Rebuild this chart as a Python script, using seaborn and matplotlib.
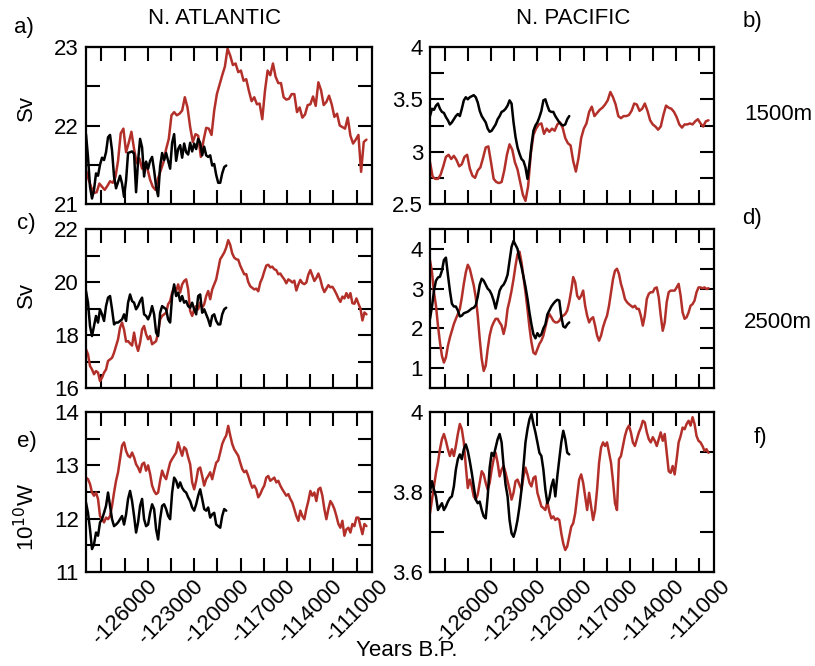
import numpy as np
import pandas as pd
import matplotlib
matplotlib.use("Agg")
import matplotlib.pyplot as plt
import seaborn as sns
from matplotlib.ticker import MultipleLocator, FuncFormatter

# ---------------- data ----------------
T_START = -128500
RED_END = -110360
BLACK_END = -119430

A_RED = [21.43,21.31,21.21,21.14,21.15,21.26,21.22,21.18,21.23,21.29,
         21.27,21.34,21.55,21.90,21.96,21.66,21.78,21.92,21.70,21.52,
         21.58,21.45,21.52,21.45,21.31,21.22,21.18,21.33,21.43,21.53,
         21.70,21.83,22.13,22.17,22.13,22.15,22.19,22.36,22.23,21.98,
         21.79,21.89,21.87,21.60,21.81,21.97,21.96,21.88,22.19,22.40,
         22.52,22.64,22.75,22.98,22.89,22.77,22.79,22.68,22.70,22.57,
         22.59,22.44,22.31,22.36,22.27,22.28,22.08,22.44,22.70,22.64,
         22.79,22.62,22.54,22.54,22.36,22.33,22.34,22.40,22.40,22.17,
         22.23,22.10,22.14,22.26,22.27,22.37,22.25,22.55,22.45,22.26,
         22.30,22.38,22.27,22.11,22.15,22.00,21.98,21.96,22.10,21.87,
         21.77,21.82,21.88,21.41,21.79,21.82]
A_BLACK = [21.89,21.60,21.22,21.07,21.18,21.39,21.36,21.50,21.59,21.56,
           21.66,21.85,21.88,21.68,21.35,21.20,21.28,21.36,21.26,21.09,
           21.30,21.65,21.66,21.67,21.64,21.15,21.55,21.83,21.72,21.35,
           21.54,21.45,21.55,21.60,21.43,21.22,21.10,21.48,21.65,21.56,
           21.65,21.55,21.45,21.78,21.89,21.55,21.70,21.75,21.59,21.77,
           21.66,21.63,21.78,21.67,21.77,21.70,21.83,21.78,21.62,21.73,
           21.62,21.60,21.62,21.49,21.51,21.37,21.27,21.27,21.39,21.47,
           21.49]

B_RED = [2.90,2.76,2.74,2.74,2.78,2.86,2.95,2.97,2.93,2.96,
         2.92,2.86,2.88,2.95,2.97,2.84,2.77,2.75,2.82,2.85,
         2.94,3.04,3.05,2.90,2.74,2.71,2.70,2.71,2.82,2.97,
         3.07,3.02,2.90,2.83,2.71,2.59,2.53,2.67,2.98,3.16,
         3.22,3.26,3.27,3.17,3.22,3.19,3.22,3.20,3.26,3.28,
         3.23,3.13,3.08,3.06,2.91,2.81,2.94,3.13,3.22,3.27,
         3.38,3.43,3.34,3.37,3.40,3.42,3.45,3.49,3.57,3.52,
         3.45,3.34,3.32,3.34,3.34,3.35,3.39,3.46,3.45,3.39,
         3.41,3.46,3.39,3.30,3.26,3.24,3.21,3.24,3.35,3.44,
         3.42,3.41,3.38,3.33,3.26,3.23,3.26,3.26,3.27,3.26,
         3.29,3.31,3.27,3.24,3.29,3.30]
B_BLACK = [3.34,3.41,3.40,3.44,3.46,3.41,3.38,3.37,3.33,3.30,
           3.26,3.28,3.31,3.34,3.36,3.34,3.41,3.49,3.52,3.50,
           3.52,3.53,3.54,3.52,3.47,3.39,3.34,3.31,3.28,3.22,
           3.19,3.20,3.23,3.26,3.31,3.34,3.38,3.39,3.41,3.44,
           3.49,3.46,3.28,3.14,3.04,2.98,2.93,2.91,2.85,2.74,
           2.88,3.06,3.20,3.25,3.28,3.33,3.39,3.49,3.50,3.44,
           3.39,3.38,3.38,3.34,3.31,3.28,3.26,3.25,3.26,3.31,
           3.34]

C_RED = [17.46,17.27,16.83,16.70,16.52,16.64,16.58,16.26,16.39,16.58,
         16.70,17.02,17.08,17.14,17.33,17.58,17.84,18.28,18.47,18.20,
         17.75,17.77,17.68,17.60,18.09,17.65,17.40,17.71,18.21,18.34,
         18.03,17.84,17.96,17.65,17.71,17.77,18.09,18.59,18.72,18.78,
         18.84,19.16,19.28,19.60,19.79,19.66,19.91,19.60,19.91,20.04,
         20.10,19.72,18.91,18.72,18.97,19.09,18.97,19.22,19.03,19.16,
         19.47,19.66,19.35,19.72,19.91,20.10,20.48,20.86,20.98,21.11,
         21.30,21.58,21.40,21.08,20.92,20.86,20.84,20.62,20.45,20.29,
         20.30,20.00,19.84,19.78,19.72,19.75,19.65,19.98,20.15,20.40,
         20.62,20.65,20.55,20.58,20.48,20.45,20.29,20.32,20.20,20.10,
         19.95,20.10,20.05,19.98,20.05,19.68,19.90,20.08,19.96,19.92,
         19.98,20.28,20.45,20.25,20.04,20.15,20.32,20.10,19.80,19.62,
         19.75,19.88,19.80,19.82,19.70,19.55,19.38,19.25,19.45,19.38,
         19.58,19.40,19.58,19.20,19.18,19.38,19.18,19.00,18.55,18.85,
         18.78]
C_BLACK = [19.66,19.22,18.34,17.96,18.34,18.72,18.47,18.97,18.78,18.53,
           19.09,19.41,19.47,18.97,18.40,18.47,18.47,18.53,18.59,18.78,
           18.53,19.22,19.53,19.28,19.22,18.97,19.09,19.28,19.41,18.78,
           18.72,18.59,18.78,19.09,18.78,18.09,17.96,18.84,19.09,19.03,
           18.97,18.59,18.47,19.47,19.91,19.47,19.60,19.28,19.47,19.22,
           19.28,19.09,19.03,19.22,18.97,18.78,19.47,19.53,18.84,18.97,
           18.78,18.59,18.34,18.72,18.78,18.53,18.40,18.40,18.78,18.97,
           19.03]

D_RED = [3.71,3.41,2.91,2.57,2.07,1.65,1.31,1.14,1.27,1.56,
         1.77,1.94,2.11,2.24,2.36,2.49,2.78,3.12,3.41,3.60,
         3.50,3.29,3.08,2.78,2.32,1.73,1.23,0.93,1.06,1.48,
         1.82,2.03,2.15,2.24,2.24,2.15,2.07,1.86,2.07,2.49,
         2.70,2.95,3.24,3.58,3.87,3.93,3.66,3.29,2.91,2.49,
         2.03,1.65,1.39,1.35,1.48,1.61,1.69,1.82,2.03,2.24,
         2.36,2.28,2.19,2.15,2.15,2.19,2.28,2.32,2.36,2.45,
         2.66,2.95,3.29,3.16,2.82,2.74,2.82,2.95,2.57,2.32,
         2.15,2.24,2.28,2.07,1.82,1.69,1.82,2.03,2.19,2.32,
         2.57,2.91,3.24,3.45,3.50,3.37,3.12,2.95,2.74,2.66,
         2.61,2.57,2.53,2.57,2.49,2.49,2.32,2.07,2.32,2.74,
         2.87,2.91,2.91,3.01,3.03,2.78,2.32,1.94,2.15,2.66,
         2.91,2.95,2.95,2.95,3.03,3.12,2.82,2.40,2.24,2.28,
         2.40,2.57,2.61,2.70,2.91,3.03,3.03,3.01,3.03,2.99,
         3.01]
D_BLACK = [2.24,2.55,2.95,3.20,3.28,3.30,3.45,3.72,3.78,3.35,
           2.95,2.62,2.55,2.55,2.45,2.30,2.32,2.38,2.40,2.42,
           2.46,2.50,2.52,2.58,2.80,3.10,3.25,3.20,3.10,3.00,
           2.95,2.85,2.70,2.50,2.72,2.95,3.05,3.10,3.20,3.35,
           3.70,4.05,4.20,4.10,4.00,3.75,3.55,3.30,3.05,2.75,
           2.40,2.10,1.85,1.75,1.88,1.80,1.85,2.00,2.10,2.35,
           2.45,2.55,2.62,2.68,2.72,2.70,2.30,2.05,2.02,2.10,
           2.15]

E_RED = [12.77,12.74,12.65,12.49,12.43,12.49,12.37,12.05,11.99,11.93,
         12.02,11.99,12.05,12.24,12.49,12.71,12.87,13.12,13.37,13.43,
         13.27,13.18,13.15,13.24,13.15,13.02,12.96,12.87,13.02,13.05,
         12.90,13.00,12.84,12.62,12.52,12.46,12.49,12.71,12.90,12.80,
         12.74,12.90,13.05,13.12,13.18,13.24,13.43,13.30,13.18,13.34,
         13.30,13.15,13.02,12.68,12.55,12.71,12.93,12.96,12.80,12.62,
         12.74,12.80,12.87,12.74,12.90,13.05,13.09,13.24,13.40,13.49,
         13.56,13.74,13.56,13.40,13.30,13.24,13.18,13.05,12.93,12.87,
         12.90,12.80,12.68,12.58,12.62,12.55,12.40,12.46,12.55,12.62,
         12.77,12.80,12.71,12.74,12.77,12.68,12.71,12.62,12.55,12.49,
         12.43,12.46,12.37,12.30,12.18,12.05,11.96,12.15,12.05,11.99,
         12.18,12.33,12.52,12.43,12.49,12.33,12.55,12.58,12.43,12.18,
         11.99,12.18,12.33,12.27,12.18,12.05,11.90,11.83,11.96,11.68,
         11.80,11.83,11.74,11.90,11.86,12.02,12.02,11.86,11.71,11.90,
         11.86]
E_BLACK = [12.30,12.11,11.80,11.43,11.52,11.74,11.68,11.93,11.99,12.11,
           12.24,12.49,12.24,11.99,11.86,11.89,11.93,11.99,12.05,11.89,
           12.08,12.37,12.52,12.33,12.05,11.74,11.93,12.24,12.37,11.99,
           11.86,11.89,12.11,12.27,12.18,11.80,11.61,11.99,12.24,12.27,
           12.18,12.05,11.99,12.49,12.77,12.71,12.58,12.68,12.58,12.52,
           12.49,12.40,12.33,12.21,12.15,12.27,12.43,12.55,12.37,12.18,
           12.15,12.21,12.02,12.08,12.11,11.89,11.86,11.83,12.05,12.18,
           12.15]

F_RED = [3.747,3.781,3.814,3.848,3.873,3.907,3.932,3.945,3.928,3.907,
         3.890,3.907,3.890,3.915,3.945,3.970,3.957,3.924,3.865,3.810,
         3.831,3.814,3.789,3.781,3.794,3.823,3.852,3.844,3.823,3.806,
         3.823,3.856,3.882,3.898,3.873,3.839,3.856,3.865,3.848,3.827,
         3.806,3.781,3.798,3.827,3.831,3.818,3.806,3.839,3.861,3.844,
         3.823,3.814,3.835,3.839,3.798,3.781,3.764,3.760,3.755,3.776,
         3.751,3.734,3.739,3.730,3.734,3.730,3.697,3.671,3.655,3.664,
         3.688,3.713,3.722,3.747,3.789,3.831,3.844,3.823,3.789,3.755,
         3.798,3.764,3.730,3.755,3.806,3.873,3.911,3.924,3.915,3.924,
         3.898,3.873,3.827,3.772,3.755,3.882,3.890,3.915,3.940,3.957,
         3.966,3.949,3.924,3.915,3.932,3.949,3.961,3.978,3.974,3.949,
         3.932,3.924,3.937,3.928,3.915,3.932,3.949,3.928,3.945,3.898,
         3.852,3.848,3.865,3.844,3.882,3.924,3.940,3.961,3.957,3.970,
         3.978,3.966,3.987,3.970,3.940,3.928,3.924,3.915,3.903,3.907,
         3.898]
F_BLACK = [3.802,3.827,3.806,3.789,3.755,3.764,3.772,3.755,3.764,3.776,
           3.785,3.789,3.814,3.856,3.882,3.894,3.882,3.907,3.919,3.903,
           3.877,3.848,3.814,3.781,3.772,3.776,3.755,3.739,3.734,3.789,
           3.861,3.898,3.890,3.911,3.932,3.945,3.924,3.865,3.818,3.789,
           3.730,3.697,3.688,3.705,3.730,3.764,3.806,3.865,3.924,3.957,
           3.982,3.995,3.970,3.949,3.924,3.898,3.890,3.856,3.806,3.772,
           3.785,3.814,3.831,3.789,3.839,3.882,3.924,3.953,3.932,3.898,
           3.894]

X_LIM = (-128500, -110000)
Y_LIMS = {"a": (21, 23), "b": (2.5, 4), "c": (16, 22),
          "d": (0.5, 4.5), "e": (11, 14), "f": (3.6, 4.0)}
Y_STEPS = {"a": (1, 0.5), "b": (0.5, 0.25), "c": (2, 1),
           "d": (1, 0.5), "e": (1, 0.5), "f": (0.2, 0.1)}
PANELS = {"a": (A_RED, A_BLACK), "b": (B_RED, B_BLACK), "c": (C_RED, C_BLACK),
          "d": (D_RED, D_BLACK), "e": (E_RED, E_BLACK), "f": (F_RED, F_BLACK)}

RED = "#b3302a"
BLK = "#000000"

# ---------------- style ----------------
sns.set_style("ticks")
plt.rcParams["font.family"] = ["Liberation Sans", "DejaVu Sans"]
for k in ["text.color", "axes.labelcolor", "xtick.color", "ytick.color",
          "axes.edgecolor"]:
    plt.rcParams[k] = "black"
plt.rcParams["axes.linewidth"] = 1.6

W, H = 815, 666
fig = plt.figure(figsize=(W / 100, H / 100), dpi=100)

def frac_axes(x0, y0, x1, y1):
    return fig.add_axes([x0 / W, 1 - y1 / H, (x1 - x0) / W, (y1 - y0) / H])

cols = {"L": (86, 372), "R": (430, 714)}
rows = [(47, 204), (229, 388), (412, 572)]
layout = {"a": ("L", 0), "b": ("R", 0), "c": ("L", 1),
          "d": ("R", 1), "e": ("L", 2), "f": ("R", 2)}

TICK_FS = 16
TXT_FS = 16
for key, (col, r) in layout.items():
    x0, x1 = cols[col]
    y0, y1 = rows[r]
    ax = frac_axes(x0, y0, x1, y1)
    red, blk = PANELS[key]
    df = pd.concat([
        pd.DataFrame({"year": np.linspace(T_START, RED_END, len(red)),
                      "value": red, "run": "red"}),
        pd.DataFrame({"year": np.linspace(T_START, BLACK_END, len(blk)),
                      "value": blk, "run": "black"}),
    ], ignore_index=True)
    sns.lineplot(data=df, x="year", y="value", hue="run",
                 hue_order=["red", "black"],
                 palette={"red": RED, "black": BLK},
                 estimator=None, sort=False, linewidth=1.8,
                 legend=False, ax=ax)
    ax.set_xlim(*X_LIM)
    ax.set_ylim(*Y_LIMS[key])
    ax.set_xlabel("")
    ax.set_ylabel("")
    ax.xaxis.set_major_locator(MultipleLocator(3000))
    ax.xaxis.set_minor_locator(MultipleLocator(1500))
    maj, mnr = Y_STEPS[key]
    ax.yaxis.set_major_locator(MultipleLocator(maj))
    ax.yaxis.set_minor_locator(MultipleLocator(mnr))
    ax.yaxis.set_major_formatter(FuncFormatter(lambda v, p: f"{v:g}"))
    ax.tick_params(which="both", direction="in", top=True, right=True,
                   length=10, width=1.5, color="black")
    ax.tick_params(axis="y", which="major", labelsize=TICK_FS, pad=5,
                   labelcolor="black")
    if r == 2:
        ax.xaxis.set_major_formatter(FuncFormatter(lambda v, p: f"{int(round(v))}"))
        ax.tick_params(axis="x", which="major", labelsize=TICK_FS, pad=3,
                       labelrotation=45, labelcolor="black")
    else:
        ax.tick_params(axis="x", labelbottom=False)
    for s in ax.spines.values():
        s.set_linewidth(1.6)
        s.set_color("black")

def ftext(x, y, s, **kw):
    kw.setdefault("fontsize", TXT_FS)
    fig.text(x / W, 1 - y / H, s, ha="center", va="center", color="black", **kw)

ftext(215, 19, "N. ATLANTIC")
ftext(573, 19, "N. PACIFIC")
ftext(24, 28, "a)")
ftext(752, 21, "b)")
ftext(26, 224, "c)")
ftext(752, 218, "d)")
ftext(27, 442, "e)")
ftext(760, 437, "f)")
ftext(778, 114, "1500m")
ftext(778, 322, "2500m")
ftext(26, 108, "Sv", rotation=90)
ftext(26, 295, "Sv", rotation=90)
ftext(27, 517, r"10$^{10}$W", rotation=90)
ftext(407, 651, "Years B.P.")

fig.savefig("out.png", dpi=100)
